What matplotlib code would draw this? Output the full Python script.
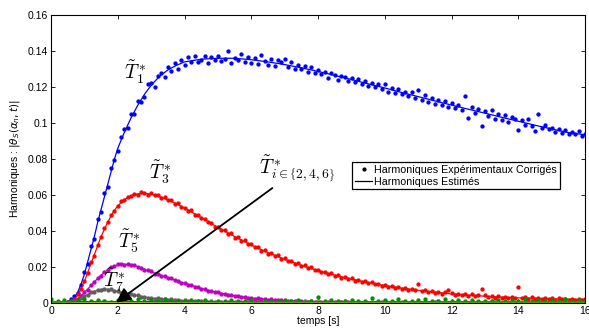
import numpy as np
import matplotlib
matplotlib.use("Agg")
import matplotlib.pyplot as plt

plt.rcParams['font.family'] = ['Liberation Sans', 'DejaVu Sans']

# === Donnees ===
# instants des points experimentaux (pas de 0.1 s)
t_pts = np.linspace(0, 16, 161)

T1_pts = [
    0.0002, 0.0001, 0.0003, 0.0000, 0.0004, 0.0008, 0.0022, 0.0040, 0.0055, 0.0098,
    0.0175, 0.0215, 0.0318, 0.0355, 0.0468, 0.0505, 0.0612, 0.0645, 0.0748, 0.0795,
    0.0845, 0.0925, 0.0965, 0.0975, 0.1052, 0.1048, 0.1125, 0.1118, 0.1145, 0.1215,
    0.1225, 0.1198, 0.1262, 0.1278, 0.1255, 0.1312, 0.1288, 0.1335, 0.1302, 0.1348,
    0.1325, 0.1368, 0.1342, 0.1375, 0.1338, 0.1352, 0.1372, 0.1335, 0.1365, 0.1348,
    0.1372, 0.1345, 0.1358, 0.1398, 0.1335, 0.1362, 0.1350, 0.1385, 0.1342, 0.1368,
    0.1335, 0.1362, 0.1328, 0.1378, 0.1345, 0.1322, 0.1355, 0.1318, 0.1348, 0.1340,
    0.1355, 0.1312, 0.1338, 0.1302, 0.1325, 0.1298, 0.1318, 0.1285, 0.1310, 0.1279,
    0.1295, 0.1272, 0.1285, 0.1252, 0.1280, 0.1268, 0.1240, 0.1262, 0.1258, 0.1235,
    0.1250, 0.1228, 0.1245, 0.1215, 0.1232, 0.1205, 0.1225, 0.1198, 0.1218, 0.1192,
    0.1215, 0.1172, 0.1195, 0.1168, 0.1190, 0.1160, 0.1175, 0.1148, 0.1172, 0.1140,
    0.1185, 0.1130, 0.1155, 0.1118, 0.1142, 0.1105, 0.1128, 0.1098, 0.1120, 0.1088,
    0.1112, 0.1085, 0.1102, 0.1072, 0.1148, 0.1030, 0.1088, 0.1055, 0.1078, 0.0985,
    0.1068, 0.1040, 0.1075, 0.1025, 0.1052, 0.1018, 0.1045, 0.1008, 0.1035, 0.1022,
    0.0962, 0.1015, 0.0990, 0.1025, 0.0985, 0.0957, 0.1048, 0.0975, 0.0990, 0.0965,
    0.0975, 0.0952, 0.0968, 0.0945, 0.0962, 0.0938, 0.0950, 0.0942, 0.0955, 0.0930,
    0.0938]

T3_pts = [
    0.0002, 0.0001, 0.0003, 0.0002, 0.0003, 0.0005, 0.0012, 0.0025, 0.0048, 0.0078,
    0.0125, 0.0165, 0.0228, 0.0262, 0.0325, 0.0368, 0.0418, 0.0448, 0.0492, 0.0510,
    0.0538, 0.0565, 0.0572, 0.0590, 0.0595, 0.0608, 0.0602, 0.0618, 0.0612, 0.0603,
    0.0612, 0.0598, 0.0603, 0.0585, 0.0590, 0.0572, 0.0570, 0.0552, 0.0555, 0.0535,
    0.0530, 0.0512, 0.0515, 0.0490, 0.0492, 0.0470, 0.0468, 0.0450, 0.0445, 0.0425,
    0.0425, 0.0405, 0.0408, 0.0385, 0.0388, 0.0362, 0.0368, 0.0345, 0.0348, 0.0328,
    0.0328, 0.0310, 0.0312, 0.0292, 0.0295, 0.0275, 0.0278, 0.0262, 0.0265, 0.0245,
    0.0248, 0.0232, 0.0235, 0.0218, 0.0222, 0.0205, 0.0210, 0.0195, 0.0198, 0.0182,
    0.0185, 0.0172, 0.0175, 0.0160, 0.0165, 0.0150, 0.0155, 0.0142, 0.0146, 0.0133,
    0.0138, 0.0125, 0.0130, 0.0118, 0.0122, 0.0110, 0.0115, 0.0104, 0.0108, 0.0097,
    0.0102, 0.0090, 0.0095, 0.0086, 0.0090, 0.0080, 0.0085, 0.0075, 0.0080, 0.0070,
    0.0108, 0.0066, 0.0072, 0.0060, 0.0066, 0.0057, 0.0062, 0.0053, 0.0060, 0.0070,
    0.0056, 0.0046, 0.0053, 0.0044, 0.0050, 0.0040, 0.0048, 0.0038, 0.0045, 0.0080,
    0.0044, 0.0034, 0.0040, 0.0030, 0.0038, 0.0029, 0.0036, 0.0028, 0.0034, 0.0026,
    0.0088, 0.0030, 0.0034, 0.0025, 0.0032, 0.0024, 0.0030, 0.0022, 0.0029, 0.0021,
    0.0026, 0.0019, 0.0028, 0.0020, 0.0025, 0.0018, 0.0024, 0.0019, 0.0023, 0.0017,
    0.0021]

T5_pts = [
    0.0001, 0.0002, 0.0001, 0.0003, 0.0002, 0.0004, 0.0008, 0.0015, 0.0023, 0.0042,
    0.0060, 0.0075, 0.0101, 0.0115, 0.0140, 0.0152, 0.0174, 0.0183, 0.0199, 0.0204,
    0.0215, 0.0218, 0.0213, 0.0217, 0.0209, 0.0210, 0.0199, 0.0197, 0.0185, 0.0183,
    0.0176, 0.0164, 0.0163, 0.0151, 0.0150, 0.0138, 0.0137, 0.0126, 0.0124, 0.0113,
    0.0113, 0.0101, 0.0100, 0.0090, 0.0089, 0.0079, 0.0078, 0.0069, 0.0069, 0.0060,
    0.0060, 0.0052, 0.0053, 0.0045, 0.0046, 0.0038, 0.0040, 0.0033, 0.0035, 0.0028,
    0.0030, 0.0025, 0.0027, 0.0022, 0.0024, 0.0019, 0.0021, 0.0017, 0.0019, 0.0015,
    0.0016, 0.0012, 0.0014, 0.0010, 0.0012, 0.0009, 0.0011, 0.0008, 0.0010, 0.0007,
    0.0009, 0.0006, 0.0008, 0.0005, 0.0007, 0.0005, 0.0006, 0.0004, 0.0006, 0.0004,
    0.0005, 0.0003, 0.0004, 0.0002, 0.0004, 0.0003, 0.0005, 0.0002, 0.0003, 0.0004,
    0.0003, 0.0002, 0.0004, 0.0002, 0.0003, 0.0001, 0.0003, 0.0002, 0.0004, 0.0002,
    0.0002, 0.0003, 0.0001, 0.0003, 0.0002, 0.0004, 0.0002, 0.0001, 0.0003, 0.0002,
    0.0002, 0.0001, 0.0003, 0.0002, 0.0001, 0.0002, 0.0003, 0.0001, 0.0002, 0.0001,
    0.0001, 0.0002, 0.0001, 0.0003, 0.0002, 0.0001, 0.0002, 0.0001, 0.0002, 0.0001,
    0.0002, 0.0001, 0.0002, 0.0001, 0.0003, 0.0001, 0.0002, 0.0001, 0.0001, 0.0002,
    0.0001, 0.0002, 0.0001, 0.0001, 0.0002, 0.0001, 0.0002, 0.0001, 0.0001, 0.0002,
    0.0001]

T7_pts = [
    0.0001, 0.0002, 0.0001, 0.0001, 0.0002, 0.0003, 0.0006, 0.0010, 0.0017, 0.0030,
    0.0040, 0.0046, 0.0061, 0.0064, 0.0075, 0.0074, 0.0080, 0.0075, 0.0076, 0.0067,
    0.0066, 0.0058, 0.0058, 0.0050, 0.0050, 0.0043, 0.0043, 0.0036, 0.0036, 0.0029,
    0.0030, 0.0025, 0.0026, 0.0021, 0.0023, 0.0018, 0.0020, 0.0016, 0.0018, 0.0014,
    0.0015, 0.0012, 0.0013, 0.0010, 0.0012, 0.0009, 0.0010, 0.0008, 0.0009, 0.0007,
    0.0008, 0.0006, 0.0007, 0.0005, 0.0007, 0.0004, 0.0006, 0.0005, 0.0006, 0.0004,
    0.0005, 0.0003, 0.0004, 0.0002, 0.0004, 0.0003, 0.0005, 0.0002, 0.0003, 0.0004,
    0.0003, 0.0004, 0.0002, 0.0003, 0.0005, 0.0002, 0.0003, 0.0004, 0.0002, 0.0003,
    0.0004, 0.0002, 0.0003, 0.0002, 0.0004, 0.0003, 0.0002, 0.0004, 0.0003, 0.0002,
    0.0003, 0.0002, 0.0004, 0.0002, 0.0003, 0.0001, 0.0003, 0.0002, 0.0004, 0.0002,
    0.0002, 0.0003, 0.0001, 0.0003, 0.0002, 0.0004, 0.0002, 0.0001, 0.0003, 0.0002,
    0.0003, 0.0002, 0.0004, 0.0001, 0.0002, 0.0003, 0.0002, 0.0001, 0.0003, 0.0002,
    0.0002, 0.0001, 0.0003, 0.0002, 0.0001, 0.0002, 0.0003, 0.0001, 0.0002, 0.0001,
    0.0001, 0.0002, 0.0001, 0.0003, 0.0002, 0.0001, 0.0002, 0.0001, 0.0002, 0.0001,
    0.0002, 0.0001, 0.0002, 0.0001, 0.0003, 0.0001, 0.0002, 0.0001, 0.0001, 0.0002,
    0.0001, 0.0002, 0.0001, 0.0001, 0.0002, 0.0001, 0.0002, 0.0001, 0.0001, 0.0002,
    0.0001]

# courbes estimees
t_fit = [0, 0.25, 0.5,
         0.6, 0.7, 0.8, 0.9, 1.0, 1.1, 1.2, 1.3, 1.4, 1.5, 1.6, 1.7, 1.8, 1.9, 2.0,
         2.2, 2.4, 2.6, 2.8, 3.0,
         3.25, 3.5, 3.75, 4.0,
         4.5, 5.0, 5.5, 6.0, 6.5, 7.0, 7.5, 8.0, 8.5, 9.0, 9.5, 10.0,
         10.5, 11.0, 11.5, 12.0, 12.5, 13.0, 13.5, 14.0, 14.5, 15.0, 15.5, 16.0]

T1_fit = [0, 0, 0.0005,
          0.0015, 0.003, 0.006, 0.0105, 0.016, 0.023, 0.030, 0.037, 0.045, 0.052,
          0.059, 0.066, 0.073, 0.080, 0.086,
          0.095, 0.103, 0.110, 0.116, 0.121,
          0.126, 0.1295, 0.132, 0.134,
          0.1355, 0.136, 0.136, 0.1352, 0.134, 0.1325, 0.1307, 0.1287, 0.1265, 0.1242,
          0.1218, 0.1195, 0.117, 0.1147, 0.1123, 0.110, 0.1077, 0.1055, 0.1032, 0.101,
          0.0988, 0.0967, 0.0947, 0.0935]

T3_fit = [0, 0, 0.0003,
          0.001, 0.002, 0.0045, 0.008, 0.012, 0.017, 0.022, 0.027, 0.032, 0.037,
          0.041, 0.045, 0.0485, 0.0515, 0.054,
          0.0575, 0.0597, 0.0607, 0.061, 0.0605,
          0.0592, 0.0574, 0.0552, 0.0528,
          0.0475, 0.042, 0.037, 0.0322, 0.028, 0.0243, 0.021, 0.018, 0.0155, 0.0133,
          0.0114, 0.0097, 0.0083, 0.0071, 0.006, 0.0051, 0.0044, 0.0038, 0.0033, 0.0029,
          0.0026, 0.0023, 0.0021, 0.002]

T5_fit = [0, 0, 0.0002,
          0.0006, 0.0013, 0.0025, 0.004, 0.0058, 0.0078, 0.0098, 0.0118, 0.0137, 0.0155,
          0.0171, 0.0185, 0.0197, 0.0206, 0.0212,
          0.0216, 0.0212, 0.0202, 0.0188, 0.0173,
          0.0157, 0.0141, 0.0125, 0.011,
          0.0081, 0.0058, 0.004, 0.0028, 0.0019, 0.0013, 0.0009, 0.0007, 0.0005, 0.0004,
          0.0003, 0.0003, 0.0002, 0.0002, 0.0002, 0.0002, 0.0001, 0.0001, 0.0001, 0.0001,
          0.0001, 0.0001, 0.0001, 0.0001]

T7_fit = [0, 0, 0.0002,
          0.0005, 0.001, 0.0018, 0.0028, 0.0038, 0.0048, 0.0058, 0.0066, 0.0072, 0.0076,
          0.0078, 0.0077, 0.0074, 0.0069, 0.0064,
          0.0056, 0.0048, 0.0041, 0.0034, 0.0028,
          0.0023, 0.0019, 0.0016, 0.0013,
          0.0009, 0.0006, 0.0005, 0.0004, 0.0003, 0.0003, 0.0002, 0.0002, 0.0002, 0.0002,
          0.0001, 0.0001, 0.0001, 0.0001, 0.0001, 0.0001, 0.0001, 0.0001, 0.0001, 0.0001,
          0.0001, 0.0001, 0.0001, 0.0001]

# harmoniques paires (quasi nulles)
t_even = np.linspace(0, 16, 81)
T2_pts = [
    0.0022, 0.0012, 0.0018, 0.0009, 0.0015,
    0.0024, 0.0010, 0.0019, 0.0013, 0.0008,
    0.0016, 0.0021, 0.0011, 0.0025, 0.0009,
    0.0017, 0.0012, 0.0020, 0.0010, 0.0014,
    0.0009, 0.0018, 0.0011, 0.0015, 0.0008,
    0.0013, 0.0010, 0.0017, 0.0009, 0.0012,
    0.0016, 0.0008, 0.0011, 0.0014, 0.0009,
    0.0012, 0.0010, 0.0015, 0.0008, 0.0013,
    0.0035, 0.0011, 0.0016, 0.0009, 0.0013,
    0.0018, 0.0010, 0.0013, 0.0028, 0.0011,
    0.0016, 0.0009, 0.0021, 0.0012, 0.0010,
    0.0015, 0.0022, 0.0010, 0.0013, 0.0024,
    0.0011, 0.0016, 0.0009, 0.0019, 0.0012,
    0.0014, 0.0010, 0.0018, 0.0011, 0.0015,
    0.0009, 0.0021, 0.0012, 0.0017, 0.0010,
    0.0016, 0.0011, 0.0020, 0.0013, 0.0018,
    0.0012]

t_odd = np.linspace(0, 16, 41)
T4_pts = [
    0.0007, 0.0005, 0.0009, 0.0006, 0.0010, 0.0005, 0.0008, 0.0006, 0.0011, 0.0005,
    0.0007, 0.0009, 0.0005, 0.0008, 0.0006, 0.0010, 0.0005, 0.0007, 0.0012, 0.0006,
    0.0008, 0.0005, 0.0009, 0.0006, 0.0007, 0.0010, 0.0005, 0.0008, 0.0006, 0.0009,
    0.0005, 0.0007, 0.0006, 0.0009, 0.0005, 0.0008, 0.0006, 0.0007, 0.0005, 0.0008,
    0.0006]
T6_pts = [
    0.0004, 0.0006, 0.0003, 0.0005, 0.0007, 0.0004, 0.0006, 0.0003, 0.0005, 0.0008,
    0.0004, 0.0005, 0.0003, 0.0006, 0.0004, 0.0005, 0.0007, 0.0003, 0.0005, 0.0004,
    0.0006, 0.0003, 0.0005, 0.0004, 0.0006, 0.0003, 0.0007, 0.0004, 0.0005, 0.0003,
    0.0006, 0.0004, 0.0005, 0.0003, 0.0004, 0.0006, 0.0003, 0.0005, 0.0004, 0.0003,
    0.0004]

t_low = [0, 0.6, 1.5, 3, 6, 10, 16]
T2_fit = [0.0006, 0.0007, 0.0009, 0.0008, 0.0007, 0.0007, 0.0006]
T4_fit = [0.0004, 0.0005, 0.0006, 0.0005, 0.0005, 0.0004, 0.0004]
T6_fit = [0.0002, 0.0003, 0.0004, 0.0003, 0.0003, 0.0003, 0.0002]

x_ticks = [0, 2, 4, 6, 8, 10, 12, 14, 16]
y_ticks = [0, 0.02, 0.04, 0.06, 0.08, 0.1, 0.12, 0.14, 0.16]
y_tick_labels = ['0', '0.02', '0.04', '0.06', '0.08', '0.1', '0.12', '0.14', '0.16']

# === Figure ===
fig = plt.figure(figsize=(5.89, 3.28), dpi=100)
ax = fig.add_axes([0.0866, 0.076, 0.907, 0.878])

ms = 4.2
lw = 0.9
series = [
    (T1_pts, T1_fit, '#0000ff'),
    (T3_pts, T3_fit, '#ff0000'),
    (T5_pts, T5_fit, '#bf00bf'),
    (T7_pts, T7_fit, '#5f5f5f'),
]
for pts, fit, col in series:
    ax.plot(t_pts, pts, '.', color=col, ms=ms)
    ax.plot(t_fit, fit, '-', color=col, lw=lw)

ax.plot(t_odd, T4_pts, '.', color='#00bfbf', ms=ms)
ax.plot(t_odd, T6_pts, '.', color='#bfbf00', ms=ms)
ax.plot(t_even, T2_pts, '.', color='#009000', ms=ms)
ax.plot(t_low, T6_fit, '-', color='#00bfbf', lw=lw)
ax.plot(t_low, T4_fit, '-', color='#c8c800', lw=1.4)
ax.plot(t_low, T2_fit, '-', color='#007f00', lw=lw)

# fleche vers les harmoniques paires
ax.annotate('', xy=(1.95, 0.0003), xytext=(6.63, 0.0639),
            arrowprops=dict(arrowstyle='-|>', color='k', lw=1.3,
                            mutation_scale=22, shrinkA=0, shrinkB=0))

lab = dict(fontsize=14, ha='center', va='center', math_fontfamily='cm')
ax.text(2.52, 0.1283, r'$\tilde{T}_1^*$', **lab)
ax.text(3.27, 0.0728, r'$\tilde{T}_3^*$', **lab)
ax.text(2.33, 0.0344, r'$\tilde{T}_5^*$', **lab)
ax.text(1.89, 0.0128, r'$\tilde{T}_7^*$', **lab)
ax.text(7.38, 0.0744, r'$\tilde{T}_{i\in\left\{2,4,6\right\}}^*$', **lab)

ax.set_xlim(0, 16)
ax.set_ylim(0, 0.16)
ax.set_xticks(x_ticks)
ax.set_yticks(y_ticks)
ax.set_yticklabels(y_tick_labels)
ax.tick_params(direction='in', top=True, right=True, length=3, width=0.6,
               labelsize=7.5, pad=2)
for s in ax.spines.values():
    s.set_linewidth(0.8)

ax.set_xlabel('temps [s]', fontsize=7.5, labelpad=0)
ax.set_ylabel(r'Harmoniques : $|\theta_S(\alpha_n,t)|$', fontsize=7.5, labelpad=4)

h1, = ax.plot([], [], 'k.', ms=4)
h2, = ax.plot([], [], 'k-', lw=0.9)
leg = ax.legend([h1, h2], ['Harmoniques Expérimentaux Corrigés', 'Harmoniques Estimés'],
                loc='upper left', bbox_to_anchor=(0.564, 0.49), fontsize=7.7,
                frameon=True, fancybox=False, edgecolor='k', framealpha=1,
                borderpad=0.25, labelspacing=0.2, handlelength=1.6,
                handletextpad=0.2, borderaxespad=0)
leg.get_frame().set_linewidth(0.9)
leg._legend_box.align = 'left'

fig.savefig('out.png', dpi=100)
